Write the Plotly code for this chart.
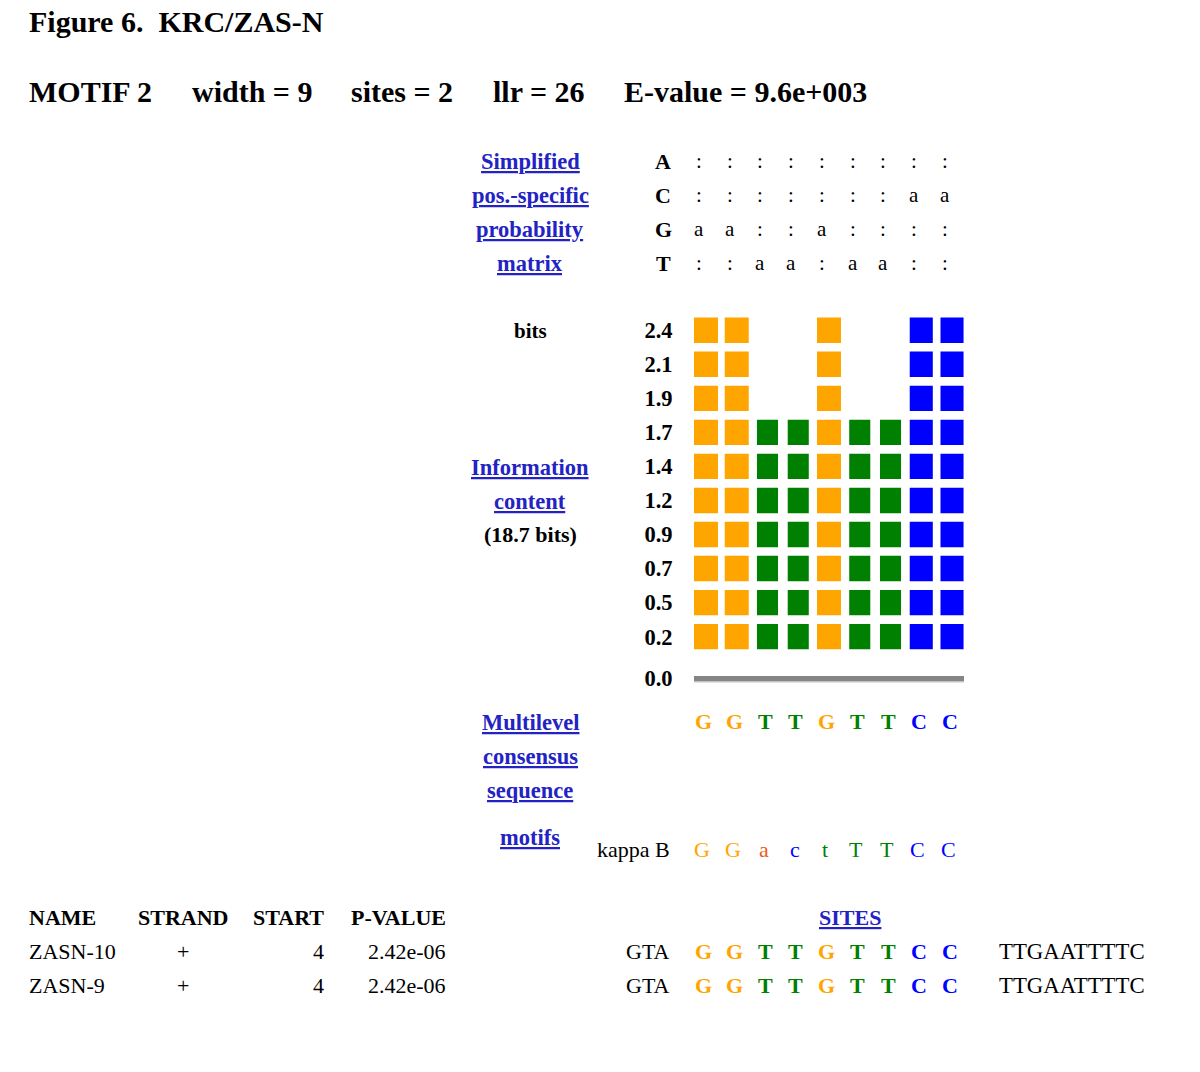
import plotly.graph_objects as go

W, H = 1200, 1072

# ---------------- data ----------------
title_text = "Figure 6.  KRC/ZAS-N"
motif_fields = ["MOTIF 2", "width = 9", "sites = 2", "llr = 26", "E-value = 9.6e+003"]

positions = [1, 2, 3, 4, 5, 6, 7, 8, 9]
consensus = ["G", "G", "T", "T", "G", "T", "T", "C", "C"]
block_counts = [10, 10, 7, 7, 10, 7, 7, 10, 10]
bits_labels = ["0.2", "0.5", "0.7", "0.9", "1.2", "1.4", "1.7", "1.9", "2.1", "2.4"]
zero_label = "0.0"
info_bits = "(18.7 bits)"

matrix_letters = ["A", "C", "G", "T"]
matrix_A = [":", ":", ":", ":", ":", ":", ":", ":", ":"]
matrix_C = [":", ":", ":", ":", ":", ":", ":", "a", "a"]
matrix_G = ["a", "a", ":", ":", "a", ":", ":", ":", ":"]
matrix_T = [":", ":", "a", "a", ":", "a", "a", ":", ":"]

kappa_label = "kappa B"
kappa_seq = ["G", "G", "a", "c", "t", "T", "T", "C", "C"]

table_headers = ["NAME", "STRAND", "START", "P-VALUE"]
site_names = ["ZASN-10", "ZASN-9"]
site_strands = ["+", "+"]
site_starts = ["4", "4"]
site_pvalues = ["2.42e-06", "2.42e-06"]
site_left = ["GTA", "GTA"]
site_core = [["G", "G", "T", "T", "G", "T", "T", "C", "C"],
             ["G", "G", "T", "T", "G", "T", "T", "C", "C"]]
site_right = ["TTGAATTTTC", "TTGAATTTTC"]

# ---------------- styles ----------------
FONT = "Liberation Serif"
LINK = "#2323c4"
COL = {"A": "#ee5a1a", "C": "#0000ff", "G": "#ffa500", "T": "#008000"}
BLOCK_W = {"G": 0.78, "T": 0.685, "C": 0.75, "A": 0.75}
BLOCK_H = 0.745


def px(x):
    return x / W


def py(y):
    return 1 - y / H


ann = []


def text(x, y, s, size=22, color="black", xanchor="left", xref="paper"):
    ann.append(dict(x=x if xref != "paper" else px(x), y=py(y), xref=xref, yref="paper",
                    text=s, showarrow=False, xanchor=xanchor, yanchor="middle",
                    font=dict(family=FONT, size=size, color=color)))


fig = go.Figure()

# logo blocks
for i, p in enumerate(positions):
    letter = consensus[i]
    n = block_counts[i]
    fig.add_trace(go.Bar(
        x=[p] * n, base=[k - BLOCK_H / 2 for k in range(n)], y=[BLOCK_H] * n,
        width=[BLOCK_W[letter]] * n, marker=dict(color=COL[letter], line=dict(width=0)),
        hoverinfo="skip", showlegend=False))

# baseline bar
zero_row = -1.23
x_ends = [positions[0] - 0.39, positions[-1] + 0.39]
fig.add_trace(go.Scatter(x=x_ends, y=[zero_row - 0.075] * 2, mode="lines",
                         line=dict(color="#c4c4c4", width=3), hoverinfo="skip", showlegend=False))
fig.add_trace(go.Scatter(x=x_ends, y=[zero_row] * 2, mode="lines",
                         line=dict(color="#858585", width=5), hoverinfo="skip", showlegend=False))

# ---------------- texts ----------------
text(27, 22, "<b>" + title_text + "</b>", size=30)
for xx, s in zip([27, 190, 349, 491, 622], motif_fields):
    text(xx, 92, "<b>" + s + "</b>", size=30)

# matrix
for lab, yy in zip(["Simplified", "pos.-specific", "probability", "matrix"], [162, 196, 230, 264]):
    text(530, yy, "<b><u>" + lab + "</u></b>", size=22.5, color=LINK, xanchor="center")
for letter, row, yy in zip(matrix_letters, [matrix_A, matrix_C, matrix_G, matrix_T], [162, 196, 230, 264]):
    text(663, yy, "<b>" + letter + "</b>", xanchor="center")
    for p, ch in zip(positions, row):
        text(p - 0.23, yy, ch, size=21, xanchor="center", xref="x")

text(530, 332, "<b>bits</b>", size=21, xanchor="center")
text(530, 469, "<b><u>Information</u></b>", size=22.5, color=LINK, xanchor="center")
text(530, 503, "<b><u>content</u></b>", size=22.5, color=LINK, xanchor="center")
text(530, 537, "<b>" + info_bits + "</b>", xanchor="center")

for lab, yy in zip(["Multilevel", "consensus", "sequence"], [725, 759, 793]):
    text(530, yy, "<b><u>" + lab + "</u></b>", size=22.5, color=LINK, xanchor="center")
for p, ch in zip(positions, consensus):
    text(p - 0.08, 724, "<b>" + ch + "</b>", color=COL[ch], xanchor="center", xref="x")

text(530, 841, "<b><u>motifs</u></b>", size=22.5, color=LINK, xanchor="center")
text(672, 853, kappa_label, xanchor="right")
for p, ch in zip(positions, kappa_seq):
    text(p - 0.12, 853, ch, color=COL[ch.upper()], xanchor="center", xref="x")

# sites table
text(27, 921, "<b>" + table_headers[0] + "</b>")
text(183, 921, "<b>" + table_headers[1] + "</b>", xanchor="center")
text(326, 921, "<b>" + table_headers[2] + "</b>", xanchor="right")
text(448, 921, "<b>" + table_headers[3] + "</b>", xanchor="right")
text(850, 921, "<b><u>SITES</u></b>", color=LINK, xanchor="center")
for r, yy in enumerate([955, 989]):
    text(27, yy, site_names[r])
    text(183, yy, site_strands[r], xanchor="center")
    text(326, yy, site_starts[r], xanchor="right")
    text(448, yy, site_pvalues[r], xanchor="right")
    text(672, yy, site_left[r], xanchor="right")
    for p, ch in zip(positions, site_core[r]):
        text(p - 0.08, yy, "<b>" + ch + "</b>", color=COL[ch], xanchor="center", xref="x")
    text(997, yy, site_right[r], size=22.8)

tickvals = list(range(len(bits_labels))) + [zero_row]
ticktext = ["<b>" + t + "</b>" for t in bits_labels] + ["<b>" + zero_label + "</b>"]

fig.update_layout(
    width=W, height=H, margin=dict(l=0, r=0, t=0, b=0),
    paper_bgcolor="white", plot_bgcolor="white",
    barmode="overlay", showlegend=False,
    xaxis=dict(domain=[690.6 / W, 967.4 / W], range=[0.5, 9.5], visible=False, fixedrange=True),
    yaxis=dict(domain=[py(690.26), py(314.4)], range=[-1.5, 9.5], showgrid=False,
               zeroline=False, showline=False, ticks="", tickvals=tickvals, ticktext=ticktext,
               ticklabelstandoff=17, tickfont=dict(family=FONT, size=22.5, color="black"),
               fixedrange=True),
    annotations=ann,
)

fig.write_html("out.html", config={"displayModeBar": False},
               post_script="document.body.style.margin='0';")
